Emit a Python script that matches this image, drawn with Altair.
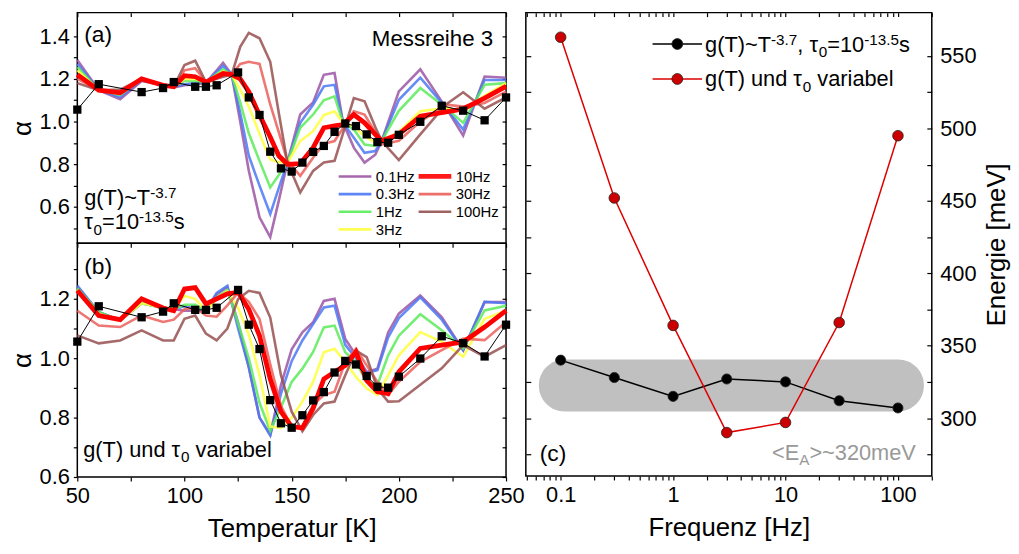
import altair as alt
import pandas as pd

FONT = "Liberation Sans"

# ---------------- data ----------------
freq_labels = ["0.1Hz", "0.3Hz", "1Hz", "3Hz", "10Hz", "30Hz", "100Hz"]
freq_colors = ["#9b55a5", "#4b78f5", "#5aeb5a", "#ffff40", "#ff0000", "#eb5f5a", "#965050"]

# measured alpha (black squares), identical in (a) and (b)
T_meas = [50, 60, 80, 90, 95, 105, 110, 115, 125, 130, 135, 140, 145, 150, 155, 160,
          165, 170, 175, 180, 185, 190, 195, 200, 210, 220, 230, 240, 250]
alpha_meas = [1.056, 1.175, 1.138, 1.157, 1.185, 1.163, 1.163, 1.17, 1.23, 1.113, 1.031, 0.859,
              0.781, 0.766, 0.808, 0.858, 0.886, 0.952, 0.991, 0.979, 0.94, 0.904, 0.901, 0.938,
              0.999, 1.074, 1.051, 1.006, 1.113]

# panel (a): model curves
T_A = [50, 60, 70, 80, 90, 95, 100, 105, 110, 118, 122, 126, 130, 135, 140, 144,
       148, 154, 160, 165, 170, 174, 179, 184, 189, 192, 200, 210, 222, 230, 240, 250]
a_01 = [1.288, 1.147, 1.105, 1.19, 1.17, 1.16, 1.17, 1.175, 1.18, 1.275, 1.22, 1.0, 0.77, 0.552, 0.459, 0.63,
        0.808, 1.033, 1.09, 1.219, 1.227, 0.994, 0.878, 0.808, 0.845, 0.909, 1.141, 1.245, 1.064, 0.935, 1.211, 1.205]
a_03 = [1.27, 1.147, 1.115, 1.195, 1.17, 1.162, 1.175, 1.18, 1.185, 1.26, 1.22, 1.04, 0.84, 0.70, 0.567, 0.69,
        0.808, 0.994, 1.079, 1.165, 1.172, 0.994, 0.924, 0.854, 0.862, 0.909, 1.102, 1.206, 1.064, 0.963, 1.195, 1.195]
a_1 = [1.255, 1.147, 1.125, 1.197, 1.172, 1.163, 1.19, 1.19, 1.185, 1.245, 1.22, 1.09, 0.945, 0.816, 0.692, 0.75,
       0.808, 0.971, 1.033, 1.10, 1.118, 0.994, 0.963, 0.893, 0.886, 0.909, 1.05, 1.157, 1.064, 0.994, 1.172, 1.18]
a_3 = [1.24, 1.147, 1.13, 1.198, 1.172, 1.163, 1.20, 1.20, 1.185, 1.235, 1.22, 1.15, 1.07, 0.943, 0.823, 0.81,
       0.808, 0.909, 0.955, 1.03, 1.048, 0.994, 0.979, 0.932, 0.901, 0.909, 0.952, 1.048, 1.064, 1.048, 1.12, 1.18]
a_10 = [1.22, 1.147, 1.135, 1.2, 1.17, 1.163, 1.215, 1.21, 1.185, 1.225, 1.22, 1.20, 1.14, 1.03, 0.928, 0.84,
        0.80, 0.803, 0.878, 0.971, 0.98, 0.986, 1.033, 0.994, 0.94, 0.91, 0.94, 1.025, 1.045, 1.059, 1.11, 1.165]
a_30 = [1.20, 1.147, 1.14, 1.2, 1.17, 1.163, 1.24, 1.25, 1.185, 1.215, 1.22, 1.27, 1.28, 1.27, 1.08, 0.95,
        0.816, 0.746, 0.831, 0.896, 0.909, 0.97, 1.048, 1.033, 0.95, 0.893, 0.91, 1.0, 1.079, 1.07, 1.087, 1.14]
a_100 = [1.18, 1.147, 1.15, 1.2, 1.17, 1.163, 1.265, 1.285, 1.185, 1.21, 1.22, 1.35, 1.415, 1.39, 1.28, 1.04,
         0.808, 0.668, 0.769, 0.808, 0.816, 0.946, 1.11, 1.095, 0.975, 0.909, 0.82, 0.94, 1.08, 1.137, 1.06, 1.113]

# panel (b): model curves
T_B = [50, 60, 70, 80, 90, 95, 100, 105, 110, 115, 120, 125, 130, 135, 140, 145,
       150, 155, 160, 165, 170, 175, 180, 185, 190, 195, 200, 210, 220, 230, 240, 250]
b_01 = [1.24, 1.155, 1.128, 1.185, 1.17, 1.165, 1.16, 1.16, 1.16, 1.215, 1.24, 1.12, 0.97, 0.80, 0.743, 0.91,
        1.03, 1.087, 1.121, 1.193, 1.20, 1.065, 1.01, 0.954, 0.965, 1.087, 1.15, 1.211, 1.139, 1.027, 1.189, 1.189]
b_03 = [1.245, 1.155, 1.128, 1.185, 1.17, 1.165, 1.175, 1.17, 1.16, 1.22, 1.244, 1.10, 0.97, 0.80, 0.74, 0.88,
        0.99, 1.06, 1.115, 1.171, 1.177, 1.045, 1.0, 0.95, 0.96, 1.07, 1.135, 1.205, 1.13, 1.027, 1.19, 1.185]
b_1 = [1.235, 1.155, 1.128, 1.185, 1.17, 1.165, 1.18, 1.18, 1.16, 1.205, 1.23, 1.12, 1.0, 0.85, 0.755, 0.835,
       0.92, 0.965, 1.021, 1.104, 1.11, 1.02, 0.987, 0.92, 0.91, 1.01, 1.076, 1.148, 1.094, 1.033, 1.161, 1.177]
b_3 = [1.23, 1.15, 1.128, 1.185, 1.17, 1.165, 1.21, 1.20, 1.16, 1.20, 1.225, 1.17, 1.08, 0.943, 0.77, 0.765,
       0.80, 0.854, 0.92, 1.02, 1.032, 0.987, 0.937, 0.898, 0.876, 0.943, 1.01, 1.088, 1.055, 1.005, 1.133, 1.16]
b_10 = [1.228, 1.144, 1.13, 1.2, 1.169, 1.16, 1.233, 1.238, 1.183, 1.2, 1.217, 1.222, 1.165, 1.076, 0.93, 0.82,
        0.77, 0.765, 0.831, 0.93, 0.954, 0.976, 1.021, 0.925, 0.887, 0.881, 0.954, 1.033, 1.044, 1.055, 1.105, 1.16]
b_30 = [1.16, 1.11, 1.105, 1.144, 1.122, 1.13, 1.165, 1.17, 1.144, 1.14, 1.178, 1.221, 1.19, 1.132, 0.98, 0.84,
        0.77, 0.765, 0.843, 0.876, 0.887, 0.987, 1.032, 0.976, 0.92, 0.876, 0.921, 0.988, 1.027, 1.066, 1.061, 1.122]
b_100 = [1.077, 1.05, 1.06, 1.094, 1.06, 1.06, 1.133, 1.144, 1.083, 1.06, 1.10, 1.199, 1.227, 1.22, 1.137, 0.943,
         0.82, 0.754, 0.809, 0.848, 0.854, 0.943, 1.026, 1.004, 0.898, 0.854, 0.855, 0.911, 0.966, 1.044, 1.005, 1.044]

# panel (c): activation energies
freq = [0.1, 0.3, 1, 3, 10, 30, 100]
E_fixed = [340, 328, 315, 327, 325, 312, 307]
E_var = [563, 452, 364, 290, 297, 366, 495]
band_f = [0.064, 170]
band_E = [304.5, 340.5]

# ---------------- helpers ----------------
AW = {' ': 278, '(': 333, ')': 333, '-': 333, '.': 278, ',': 278, '=': 584, '~': 584, '<': 584,
      '>': 584, '[': 278, ']': 278, 'A': 667, 'E': 667, 'H': 722, 'K': 667, 'M': 833, 'T': 611,
      'V': 667, 'a': 556, 'b': 556, 'c': 500, 'd': 556, 'e': 556, 'g': 556, 'h': 556, 'i': 222,
      'l': 222, 'm': 833, 'n': 556, 'r': 333, 's': 500, 't': 278, 'u': 556, 'v': 500, 'z': 500,
      'τ': 430}


def tw(s, fs):
    return sum(AW.get(ch, 556) for ch in s) * fs / 1000.0


def runs(parts, x, y, fs, color="black", anchor="left"):
    sizes = [fs if k == "n" else fs * 0.7 for _, k in parts]
    widths = [tw(t, s) for (t, _), s in zip(parts, sizes)]
    cx = x - sum(widths) if anchor == "right" else x
    rows = []
    for (t, k), s, w in zip(parts, sizes, widths):
        lead = len(t) - len(t.lstrip(" "))
        dy = 0 if k == "n" else (-0.33 * fs if k == "sup" else 0.24 * fs)
        rows.append(dict(px=cx + tw(" " * lead, s), py=y + dy, txt=t.strip(" "), fs=s, col=color))
        cx += w
    return rows


def txt_layer(rows):
    return alt.Chart(pd.DataFrame(rows)).mark_text(align="left", baseline="alphabetic", font=FONT).encode(
        x=alt.X("px:Q", scale=None, axis=None),
        y=alt.Y("py:Q", scale=None, axis=None),
        text=alt.Text("txt:N"),
        size=alt.Size("fs:Q", scale=None, legend=None),
        color=alt.Color("col:N", scale=None, legend=None),
    )


def long_df(T, series):
    rows = []
    for lab, vals in zip(freq_labels, series):
        for t, v in zip(T, vals):
            rows.append({"T": t, "alpha": v, "f": lab})
    return pd.DataFrame(rows)


color_scale = alt.Scale(domain=freq_labels, range=freq_colors)
X_VALUES = list(range(50, 251, 25))
meas_df = pd.DataFrame({"T": T_meas, "alpha": alpha_meas})


def alpha_panel(T, series, ydom, yvals, height, texts, bottom_labels, legend=False):
    df = long_df(T, series)
    xs = alt.Scale(domain=[50, 250], nice=False, zero=False)
    ys = alt.Scale(domain=ydom, nice=False, zero=False)
    ylab = "abs(round(datum.value*10) % 2) == 0 ? format(datum.value, '.1f') : ''"
    if bottom_labels:
        xax = alt.Axis(orient="bottom", values=X_VALUES, title="Temperatur [K]", tickSize=4,
                       labelPadding=5, titlePadding=9, labelFlush=False, labelOverlap=False,
                       labelExpr="datum.value % 50 == 0 ? datum.label : ''")
    else:
        xax = None
    yax = alt.Axis(orient="left", values=yvals, title="α", tickSize=4, labelPadding=4,
                   titlePadding=4, labelFlush=False, labelOverlap=False, labelExpr=ylab)
    thin = alt.Chart(df[df.f != "10Hz"]).mark_line(strokeWidth=2.6, opacity=0.85).encode(
        x=alt.X("T:Q", scale=xs, axis=xax),
        y=alt.Y("alpha:Q", scale=ys, axis=yax),
        color=alt.Color("f:N", scale=color_scale, legend=None),
    )
    thick = alt.Chart(df[df.f == "10Hz"]).mark_line(strokeWidth=4.8, color="#ff0000").encode(
        x=alt.X("T:Q", scale=xs, axis=None),
        y=alt.Y("alpha:Q", scale=ys, axis=None),
    )
    mline = alt.Chart(meas_df).mark_line(strokeWidth=1, color="black").encode(
        x=alt.X("T:Q", scale=xs, axis=None), y=alt.Y("alpha:Q", scale=ys, axis=None))
    msq = alt.Chart(meas_df).mark_square(size=70, color="black", opacity=1).encode(
        x=alt.X("T:Q", scale=xs, axis=None), y=alt.Y("alpha:Q", scale=ys, axis=None))
    dummy = alt.Chart(meas_df).mark_point(opacity=0).encode(
        x=alt.X("T:Q", scale=xs, axis=alt.Axis(orient="top", values=X_VALUES, labels=False,
                                                title=None, tickSize=4, offset=-4)),
        y=alt.Y("alpha:Q", scale=ys, axis=alt.Axis(orient="right", values=yvals, labels=False,
                                                   title=None, tickSize=4, offset=-4)),
    )
    layers = [thin, thick, mline, msq, dummy, txt_layer(texts)]
    if legend:
        lrows, trows = [], []
        for i, lab in enumerate(freq_labels):
            col, row = (0, i) if i < 4 else (1, i - 4)
            x0 = 264 if col == 0 else 344.7
            y0 = 165.5 + 17.8 * row
            lrows.append(dict(x1=x0, x2=x0 + 33, y=y0, c=freq_colors[i],
                              w=4.8 if lab == "10Hz" else 2.6))
            trows += runs([(lab, "n")], x0 + 37.5, y0 + 5.3, 15)
        rules = alt.Chart(pd.DataFrame(lrows)).mark_rule(opacity=0.9).encode(
            x=alt.X("x1:Q", scale=None, axis=None), x2="x2:Q",
            y=alt.Y("y:Q", scale=None, axis=None),
            color=alt.Color("c:N", scale=None, legend=None),
            strokeWidth=alt.StrokeWidth("w:Q", scale=None, legend=None),
        )
        layers += [rules, txt_layer(trows)]
    return alt.layer(*layers).resolve_axis(x="independent", y="independent").properties(
        width=433, height=height)


# annotation texts (pixel positions inside each panel)
texts_a = (runs([("(a)", "n")], 7, 29.5, 23)
           + runs([("Messreihe 3", "n")], 420, 33.7, 22.5, anchor="right")
           + runs([("g(T)~T", "n"), ("-3.7", "sup")], 7, 194, 22)
           + runs([("τ", "n"), ("0", "sub"), ("=10", "n"), ("-13.5", "sup"), ("s", "n")], 7, 219, 22))
texts_b = (runs([("(b)", "n")], 7, 30.5, 23)
           + runs([("g(T) und τ", "n"), ("0", "sub"), (" variabel", "n")], 6, 216, 22))

yvals_a = [round(0.5 + 0.1 * i, 1) for i in range(10)]
yvals_b = [round(0.6 + 0.1 * i, 1) for i in range(8)]

panel_a = alpha_panel(T_A, [a_01, a_03, a_1, a_3, a_10, a_30, a_100], [0.43, 1.51], yvals_a, 233,
                      texts_a, bottom_labels=False, legend=True)
panel_b = alpha_panel(T_B, [b_01, b_03, b_1, b_3, b_10, b_30, b_100], [0.6, 1.387], yvals_b, 236,
                      texts_b, bottom_labels=True)

# ---------------- panel (c) ----------------
xs_c = alt.Scale(type="log", domain=[0.049, 200], nice=False)
ys_c = alt.Scale(domain=[260, 580], nice=False, zero=False)
fx_vals = sorted({round(m * 10.0 ** e, 6) for e in range(-2, 3) for m in range(1, 10)
                  if 0.049 <= m * 10.0 ** e <= 200})
ey_vals = list(range(275, 551, 25))
xlab_c = ("datum.value == 0.1 ? '0.1' : datum.value == 1 ? '1' : datum.value == 10 ? '10' : "
          "datum.value == 100 ? '100' : ''")

c_df = pd.DataFrame({"f": freq, "Ef": E_fixed, "Ev": E_var})
band = alt.Chart(pd.DataFrame({"f1": [band_f[0]], "f2": [band_f[1]], "e1": [band_E[0]], "e2": [band_E[1]]})
                 ).mark_rect(color="#c0c0c0", cornerRadius=26).encode(
    x=alt.X("f1:Q", scale=xs_c, axis=None), x2="f2:Q",
    y=alt.Y("e1:Q", scale=ys_c, axis=None), y2="e2:Q")
blk_line = alt.Chart(c_df).mark_line(color="black", strokeWidth=1.5).encode(
    x=alt.X("f:Q", scale=xs_c, axis=alt.Axis(orient="bottom", values=fx_vals, title="Frequenz [Hz]",
                                              tickSize=4, labelPadding=5, titlePadding=9,
                                              labelFlush=False, labelOverlap=False, labelExpr=xlab_c)),
    y=alt.Y("Ef:Q", scale=ys_c, axis=alt.Axis(orient="right", values=ey_vals, title="Energie [meV]",
                                               tickSize=5, offset=-5, labelPadding=8, titlePadding=8,
                                               titleAngle=270, titleBaseline="top",
                                               labelFlush=False, labelOverlap=False,
                                               labelExpr="datum.value % 50 == 0 ? datum.label : ''")),
)
blk_pts = alt.Chart(c_df).mark_circle(size=105, color="black", opacity=1, stroke="#222",
                                      strokeWidth=0.8).encode(
    x=alt.X("f:Q", scale=xs_c, axis=None), y=alt.Y("Ef:Q", scale=ys_c, axis=None))
red_line = alt.Chart(c_df).mark_line(color="#dd0000", strokeWidth=1.5).encode(
    x=alt.X("f:Q", scale=xs_c, axis=None), y=alt.Y("Ev:Q", scale=ys_c, axis=None))
red_pts = alt.Chart(c_df).mark_circle(size=115, color="#cc0000", opacity=1, stroke="#222",
                                      strokeWidth=0.8).encode(
    x=alt.X("f:Q", scale=xs_c, axis=None), y=alt.Y("Ev:Q", scale=ys_c, axis=None))
dummy_c = alt.Chart(c_df).mark_point(opacity=0).encode(
    x=alt.X("f:Q", scale=xs_c, axis=alt.Axis(orient="top", values=fx_vals, labels=False, title=None,
                                              tickSize=4, offset=-4)),
    y=alt.Y("Ef:Q", scale=ys_c, axis=alt.Axis(orient="left", values=ey_vals, labels=False, title=None,
                                               tickSize=5, offset=-5)),
)

# legend of panel (c)
leg_c = pd.DataFrame({"x1": [128, 128], "x2": [178, 178], "y": [31.7, 67.0],
                      "c": ["black", "#dd0000"]})
leg_c_lines = alt.Chart(leg_c).mark_rule(strokeWidth=1.5).encode(
    x=alt.X("x1:Q", scale=None, axis=None), x2="x2:Q", y=alt.Y("y:Q", scale=None, axis=None),
    color=alt.Color("c:N", scale=None, legend=None))
leg_c_fill = pd.DataFrame({"xm": [153, 153], "y": [31.7, 67.0], "c": ["black", "#cc0000"]})
leg_c_pts = alt.Chart(leg_c_fill).mark_circle(size=120, opacity=1, stroke="#222", strokeWidth=0.8).encode(
    x=alt.X("xm:Q", scale=None, axis=None), y=alt.Y("y:Q", scale=None, axis=None),
    color=alt.Color("c:N", scale=None, legend=None))
texts_c = (runs([("g(T)~T", "n"), ("-3.7", "sup"), (", τ", "n"), ("0", "sub"), ("=10", "n"),
                 ("-13.5", "sup"), ("s", "n")], 181, 39.5, 22)
           + runs([("g(T) und τ", "n"), ("0", "sub"), (" variabel", "n")], 181, 74.5, 22)
           + runs([("(c)", "n")], 14, 453, 23)
           + runs([("<E", "n"), ("A", "sub"), (">~320meV", "n")], 394, 452, 22, color="#999999",
                  anchor="right"))

panel_c = alt.layer(band, blk_line, red_line, blk_pts, red_pts, dummy_c, leg_c_lines, leg_c_pts,
                    txt_layer(texts_c)).resolve_axis(x="independent", y="independent").properties(
    width=410, height=468)

left = alt.vconcat(panel_a, panel_b, spacing=0, bounds="flush")
chart = alt.hconcat(left, panel_c, spacing=-2, bounds="full").properties(
    padding={"left": 0, "top": 0, "right": 0, "bottom": 0}
).configure(font=FONT).configure_view(stroke="black", strokeWidth=1.5).configure_axis(
    labelFontSize=22, titleFontSize=26, titleFontWeight="normal", labelFont=FONT, titleFont=FONT,
    labelColor="black", titleColor="black", tickColor="black", tickWidth=1.2, domain=False, grid=False)

chart.save("out.html", embed_options={"renderer": "svg", "actions": False})
